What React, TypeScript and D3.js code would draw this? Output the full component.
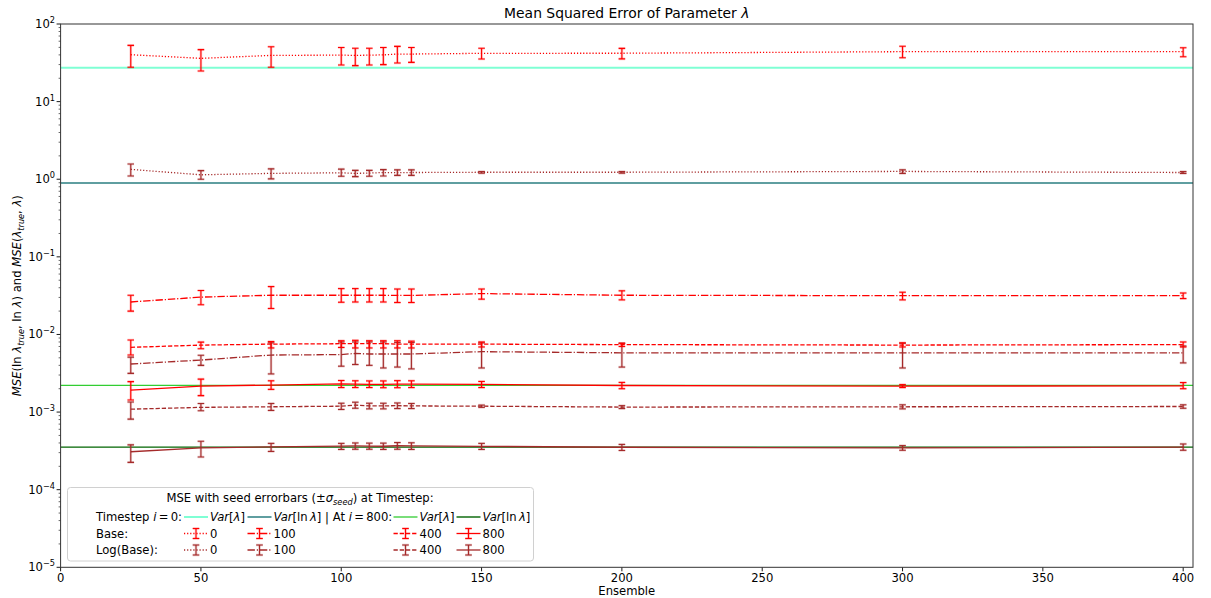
import React from 'react';
import * as d3 from 'd3';

// ensemble sizes on the x axis
const ensembles = [25, 50, 75, 100, 105, 110, 115, 120, 125, 150, 200, 300, 400];

// Base, timestep 0
const base0 = [40.2, 36.1, 39.4, 39.7, 39.4, 39.7, 40.0, 41.0, 41.0, 41.9, 42.0, 44.0, 44.0];
const base0Lo = [27.7, 24.8, 27.7, 29.6, 29.1, 29.6, 30.0, 31.5, 32.0, 35.4, 35.5, 36.8, 37.9];
const base0Hi = [53.0, 46.7, 51.0, 49.9, 48.6, 48.6, 49.9, 51.5, 49.9, 48.6, 48.5, 51.7, 49.5];

// Log(Base), timestep 0
const log0 = [1.34, 1.14, 1.19, 1.21, 1.19, 1.2, 1.22, 1.22, 1.22, 1.23, 1.23, 1.26, 1.22];
const log0Lo = [1.1, 1.0, 1.01, 1.09, 1.08, 1.09, 1.1, 1.12, 1.12, 1.2, 1.2, 1.19, 1.19];
const log0Hi = [1.57, 1.29, 1.36, 1.35, 1.3, 1.3, 1.33, 1.32, 1.32, 1.26, 1.26, 1.32, 1.26];

// Base, timestep 100
const base100 = [0.0262, 0.0303, 0.032, 0.032, 0.032, 0.032, 0.032, 0.0318, 0.0318, 0.0336, 0.032, 0.0316, 0.0316];
const base100Lo = [0.02, 0.0241, 0.0216, 0.026, 0.0262, 0.0262, 0.0262, 0.0258, 0.0258, 0.0285, 0.0279, 0.0279, 0.029];
const base100Hi = [0.032, 0.0369, 0.0414, 0.039, 0.039, 0.039, 0.039, 0.0385, 0.0385, 0.0385, 0.0365, 0.035, 0.0342];

// Log(Base), timestep 100
const log100 = [0.00416, 0.00468, 0.00543, 0.0055, 0.0057, 0.0056, 0.0056, 0.0056, 0.0056, 0.006, 0.0058, 0.0058, 0.0058];
const log100Lo = [0.00315, 0.004, 0.0031, 0.0039, 0.0041, 0.004, 0.0037, 0.0038, 0.0036, 0.0037, 0.0038, 0.0037, 0.0043];
const log100Hi = [0.0051, 0.0054, 0.0078, 0.008, 0.008, 0.008, 0.008, 0.0079, 0.0079, 0.0078, 0.0077, 0.0077, 0.0071];

// Base, timestep 400
const base400 = [0.00683, 0.00729, 0.00751, 0.0076, 0.0076, 0.0076, 0.0076, 0.0075, 0.0075, 0.0075, 0.0074, 0.0073, 0.0074];
const base400Lo = [0.00543, 0.00655, 0.0067, 0.0068, 0.0067, 0.0067, 0.0067, 0.0067, 0.0067, 0.0069, 0.007, 0.0069, 0.0069];
const base400Hi = [0.00848, 0.00797, 0.0081, 0.0083, 0.0084, 0.0083, 0.0083, 0.0083, 0.0082, 0.008, 0.0077, 0.0078, 0.008];

// Log(Base), timestep 400
const log400 = [0.00109, 0.00115, 0.00117, 0.00119, 0.00123, 0.0012, 0.0012, 0.00121, 0.0012, 0.00119, 0.00116, 0.00117, 0.00118];
const log400Lo = [0.00081, 0.00104, 0.00105, 0.00108, 0.00112, 0.0011, 0.0011, 0.00111, 0.00111, 0.00115, 0.00111, 0.0011, 0.00112];
const log400Hi = [0.00135, 0.00129, 0.00129, 0.0013, 0.00134, 0.0013, 0.0013, 0.00131, 0.00129, 0.00123, 0.00121, 0.00124, 0.00124];

// Base, timestep 800
const base800 = [0.00192, 0.00216, 0.00223, 0.00231, 0.00229, 0.00228, 0.00228, 0.00229, 0.00229, 0.00227, 0.0022, 0.00216, 0.00218];
const base800Lo = [0.00143, 0.00163, 0.00196, 0.00207, 0.00207, 0.00207, 0.00206, 0.00206, 0.00207, 0.00207, 0.002, 0.00207, 0.002];
const base800Hi = [0.00247, 0.00266, 0.00253, 0.00255, 0.00253, 0.00252, 0.00252, 0.00254, 0.00253, 0.00248, 0.00241, 0.00226, 0.0024];

// Log(Base), timestep 800
const log800 = [0.000308, 0.000346, 0.000356, 0.000364, 0.000366, 0.000365, 0.000363, 0.000368, 0.000366, 0.000362, 0.000352, 0.000346, 0.000354];
const log800Lo = [0.000225, 0.000264, 0.000311, 0.00033, 0.000332, 0.000332, 0.00033, 0.000332, 0.00033, 0.00033, 0.00032, 0.000322, 0.000322];
const log800Hi = [0.000378, 0.000421, 0.000395, 0.000395, 0.0004, 0.000398, 0.000398, 0.000405, 0.000402, 0.000395, 0.000383, 0.00037, 0.000388];

// reference variances
const varLam0 = 27.4;
const varLnLam0 = 0.893;
const varLam800 = 0.00221;
const varLnLam800 = 0.000354;

const xTicks = [0, 50, 100, 150, 200, 250, 300, 350, 400];
const yExponents = [-5, -4, -3, -2, -1, 0, 1, 2];

const W = 1211;
const H = 598;
const FONT = 'DejaVu Sans, sans-serif';
const RED = '#ff0000';
const BROWN = '#a52a2a';

const DOTTED = '1.2,1.9';
const DASHDOT = '7.4,1.9,1.2,1.9';
const DASHED = '4.3,1.9';
const SOLID = undefined;

const series = [
  { mean: base0, lo: base0Lo, hi: base0Hi, color: RED, dash: DOTTED },
  { mean: log0, lo: log0Lo, hi: log0Hi, color: BROWN, dash: DOTTED },
  { mean: base100, lo: base100Lo, hi: base100Hi, color: RED, dash: DASHDOT },
  { mean: log100, lo: log100Lo, hi: log100Hi, color: BROWN, dash: DASHDOT },
  { mean: base400, lo: base400Lo, hi: base400Hi, color: RED, dash: DASHED },
  { mean: log400, lo: log400Lo, hi: log400Hi, color: BROWN, dash: DASHED },
  { mean: base800, lo: base800Lo, hi: base800Hi, color: RED, dash: SOLID },
  { mean: log800, lo: log800Lo, hi: log800Hi, color: BROWN, dash: SOLID },
];

const hLines = [
  { value: varLam0, color: '#7fffd4', width: 2 },
  { value: varLnLam0, color: '#5f9ea0', width: 2 },
  { value: varLam800, color: '#32cd32', width: 1.2 },
  { value: varLnLam800, color: '#006400', width: 1.4 },
];

const left = 60.6;
const right = 1193;
const top = 24;
const bottom = 567.3;

const x = d3.scaleLinear().domain([0, 403.5]).range([left, right]);
const y = d3.scaleLog().domain([1e-5, 1e2]).range([bottom, top]);

const ErrBar = ({ cx, y1, y2, color }: { cx: number; y1: number; y2: number; color: string }) => {
  const cap = 3.3;
  return (
    <g>
      <g stroke={color} strokeOpacity={0.22} strokeWidth={2.6}>
        <line x1={cx} x2={cx} y1={y1} y2={y2} />
        <line x1={cx - cap} x2={cx + cap} y1={y1} y2={y1} />
        <line x1={cx - cap} x2={cx + cap} y1={y2} y2={y2} />
      </g>
      <g stroke={color} strokeWidth={1.1}>
        <line x1={cx} x2={cx} y1={y1} y2={y2} />
        <line x1={cx - cap} x2={cx + cap} y1={y1} y2={y1} />
        <line x1={cx - cap} x2={cx + cap} y1={y2} y2={y2} />
      </g>
    </g>
  );
};

const line = d3
  .line<number>()
  .x((_, i) => x(ensembles[i]))
  .y((d) => y(d));

const LegendLine = ({ x0, cy, color, width }: { x0: number; cy: number; color: string; width: number }) => (
  <line x1={x0} x2={x0 + 24} y1={cy} y2={cy} stroke={color} strokeWidth={width} />
);

const LegendErr = ({ x0, cy, color, dash }: { x0: number; cy: number; color: string; dash?: string }) => (
  <g>
    <line x1={x0} x2={x0 + 24} y1={cy} y2={cy} stroke={color} strokeWidth={1.3} strokeDasharray={dash} />
    <ErrBar cx={x0 + 12} y1={cy - 5} y2={cy + 5} color={color} />
  </g>
);

const EQ = '\u2009=\u2009';

export default function App() {
  const minor: number[] = [];
  for (let k = -5; k < 2; k++) {
    for (let m = 2; m <= 9; m++) minor.push(m * Math.pow(10, k));
  }
  const legendCols = [184, 247.5, 393.5, 456.5];
  const rowY = [517, 533.5, 550];
  const legendLabels = ['0', '100', '400', '800'];
  const legendDash = [DOTTED, DASHDOT, DASHED, SOLID];

  return (
    <div style={{ position: 'absolute', left: 0, top: 0 }}>
      <svg width={W} height={H} fontFamily={FONT} style={{ display: 'block', background: '#fff' }}>
        <rect x={0} y={0} width={W} height={H} fill="#fff" />
        <defs>
          <clipPath id="plot">
            <rect x={left} y={top} width={right - left} height={bottom - top} />
          </clipPath>
        </defs>

        <g clipPath="url(#plot)">
          {hLines.map((h, i) => (
            <line key={i} x1={left} x2={right} y1={y(h.value)} y2={y(h.value)} stroke={h.color} strokeWidth={h.width} />
          ))}
          {series.map((s, si) => (
            <g key={si}>
              <path d={line(s.mean) || ''} fill="none" stroke={s.color} strokeWidth={1.3} strokeDasharray={s.dash} />
              {ensembles.map((e, i) => (
                <ErrBar key={i} cx={x(e)} y1={y(s.hi[i])} y2={y(s.lo[i])} color={s.color} />
              ))}
            </g>
          ))}
        </g>

        {/* x axis */}
        {xTicks.map((t) => (
          <g key={t}>
            <line x1={x(t)} x2={x(t)} y1={bottom} y2={bottom + 4} stroke="#000" strokeWidth={0.9} />
            <text x={x(t)} y={582} fontSize={11.6} textAnchor="middle" fill="#000">
              {t}
            </text>
          </g>
        ))}
        <text x={(left + right) / 2} y={595} fontSize={11.6} textAnchor="middle" fill="#000">
          Ensemble
        </text>

        {/* y axis */}
        {minor.map((v, i) => (
          <line key={i} x1={left - 2} x2={left} y1={y(v)} y2={y(v)} stroke="#000" strokeWidth={0.6} />
        ))}
        {yExponents.map((k) => (
          <g key={k}>
            <line x1={left - 4} x2={left} y1={y(Math.pow(10, k))} y2={y(Math.pow(10, k))} stroke="#000" strokeWidth={0.9} />
            <text x={55} y={y(Math.pow(10, k)) + 4} fontSize={11.6} textAnchor="end" fill="#000">
              10
              <tspan dy={-5} fontSize={8.2}>
                {k < 0 ? '\u2212' + Math.abs(k) : String(k)}
              </tspan>
            </text>
          </g>
        ))}
        <text transform={`translate(21,${(top + bottom) / 2}) rotate(-90)`} fontSize={11.6} textAnchor="middle" fill="#000">
          <tspan fontStyle="italic">MSE</tspan>
          <tspan>(ln </tspan>
          <tspan fontStyle="italic">λ</tspan>
          <tspan dy={2.5} fontSize={8.2} fontStyle="italic">true</tspan>
          <tspan dy={-2.5}>, ln </tspan>
          <tspan fontStyle="italic">λ</tspan>
          <tspan>) and </tspan>
          <tspan fontStyle="italic">MSE</tspan>
          <tspan>(</tspan>
          <tspan fontStyle="italic">λ</tspan>
          <tspan dy={2.5} fontSize={8.2} fontStyle="italic">true</tspan>
          <tspan dy={-2.5}>, </tspan>
          <tspan fontStyle="italic">λ</tspan>
          <tspan>)</tspan>
        </text>

        {/* frame */}
        <rect x={left} y={top} width={right - left} height={bottom - top} fill="none" stroke="#333" strokeWidth={1} />

        {/* title */}
        <text x={(left + right) / 2} y={18} fontSize={13.9} textAnchor="middle" fill="#000">
          Mean Squared Error of Parameter <tspan fontStyle="italic">λ</tspan>
        </text>

        {/* legend */}
        <rect x={67.5} y={487.5} width={466} height={73.5} rx={3} fill="#fff" fillOpacity={0.8} stroke="#d0d0d0" strokeWidth={1} />
        <text x={300} y={502} fontSize={11.6} textAnchor="middle" fill="#000">
          MSE with seed errorbars (±<tspan fontStyle="italic">σ</tspan>
          <tspan dy={2.5} fontSize={8.2} fontStyle="italic">seed</tspan>
          <tspan dy={-2.5}>) at Timestep:</tspan>
        </text>

        <text x={96} y={rowY[0] + 4} fontSize={11.6} fill="#000">
          Timestep <tspan fontStyle="italic">i</tspan>{EQ}0:
        </text>
        <LegendLine x0={legendCols[0]} cy={rowY[0]} color={hLines[0].color} width={2} />
        <text x={legendCols[0] + 26} y={rowY[0] + 4} fontSize={11.6} fill="#000">
          <tspan fontStyle="italic">Var</tspan>[<tspan fontStyle="italic">λ</tspan>]
        </text>
        <LegendLine x0={legendCols[1]} cy={rowY[0]} color={hLines[1].color} width={2} />
        <text x={legendCols[1] + 26} y={rowY[0] + 4} fontSize={11.6} fill="#000">
          <tspan fontStyle="italic">Var</tspan>[ln<tspan fontStyle="italic">{'\u2009'}λ</tspan>] | At <tspan fontStyle="italic">i</tspan>{EQ}800:
        </text>
        <LegendLine x0={legendCols[2]} cy={rowY[0]} color={hLines[2].color} width={1.3} />
        <text x={legendCols[2] + 26} y={rowY[0] + 4} fontSize={11.6} fill="#000">
          <tspan fontStyle="italic">Var</tspan>[<tspan fontStyle="italic">λ</tspan>]
        </text>
        <LegendLine x0={legendCols[3]} cy={rowY[0]} color={hLines[3].color} width={1.4} />
        <text x={legendCols[3] + 26} y={rowY[0] + 4} fontSize={11.6} fill="#000">
          <tspan fontStyle="italic">Var</tspan>[ln<tspan fontStyle="italic">{'\u2009'}λ</tspan>]
        </text>

        {[
          { label: 'Base:', color: RED, ry: rowY[1] },
          { label: 'Log(Base):', color: BROWN, ry: rowY[2] },
        ].map((r) => (
          <g key={r.label}>
            <text x={96} y={r.ry + 4} fontSize={11.6} fill="#000">
              {r.label}
            </text>
            {legendCols.map((cx, ci) => (
              <g key={ci}>
                <LegendErr x0={cx} cy={r.ry} color={r.color} dash={legendDash[ci]} />
                <text x={cx + 26} y={r.ry + 4} fontSize={11.6} fill="#000">
                  {legendLabels[ci]}
                </text>
              </g>
            ))}
          </g>
        ))}
      </svg>
    </div>
  );
}
